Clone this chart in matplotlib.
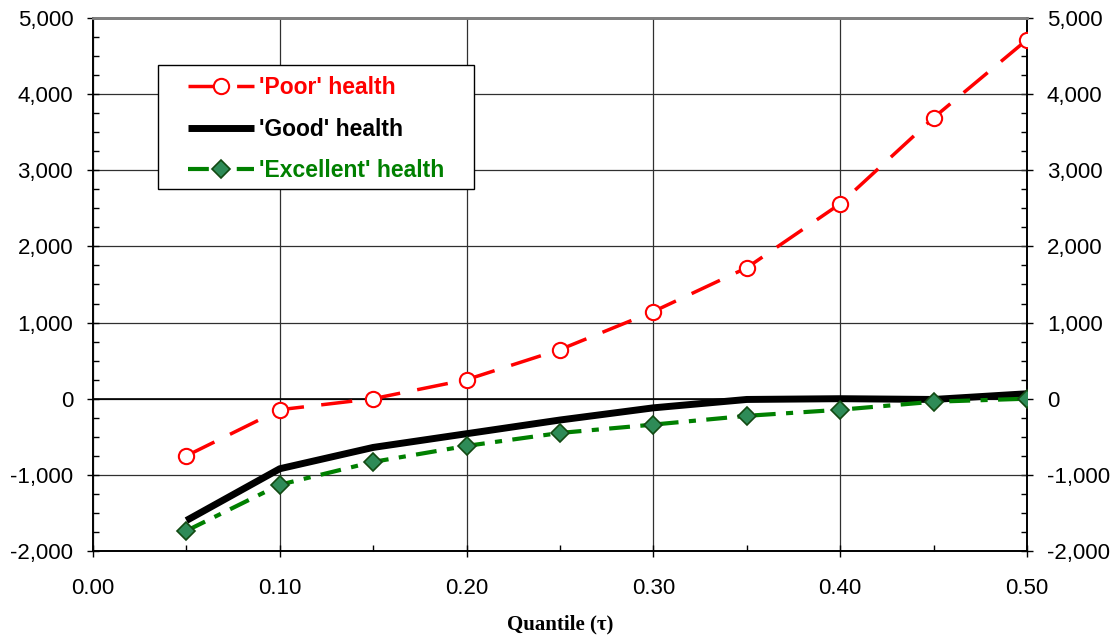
import matplotlib.pyplot as plt
import matplotlib.ticker as mticker
from matplotlib.patches import Rectangle

plt.rcParams['font.family'] = ['Liberation Sans', 'DejaVu Sans']
plt.rcParams['axes.unicode_minus'] = False

# Data
quantile = [0.05, 0.10, 0.15, 0.20, 0.25, 0.30, 0.35, 0.40, 0.45, 0.50]
poor = [-750, -145, 0, 250, 645, 1145, 1720, 2560, 3690, 4715]
good = [-1600, -920, -640, -460, -280, -120, -10, 0, -10, 65]
excellent = [-1735, -1130, -830, -620, -450, -340, -225, -145, -40, 0]

series_labels = ["'Poor' health", "'Good' health", "'Excellent' health"]
label_colors = ['red', 'black', 'green']

fig = plt.figure(figsize=(11.15, 6.38), dpi=100)
ax = fig.add_axes([0.0834, 0.1364, 0.8377, 0.8354])

ax.plot(quantile, poor, color='red', lw=2.5, dashes=(9, 5),
        marker='o', ms=11, mfc='white', mec='red', mew=1.5,
        label=series_labels[0], zorder=4)
ax.plot(quantile, good, color='black', lw=5, solid_capstyle='butt',
        label=series_labels[1], zorder=3)
ax.plot(quantile, excellent, color='green', lw=3, dashes=(5, 2.5, 1.7, 2.5),
        marker='D', ms=9, mfc='#2e8b57', mec='#124a12', mew=1.2,
        label=series_labels[2], zorder=5)

ax.set_xlim(0, 0.5)
ax.set_ylim(-2000, 5000)
ax.xaxis.set_major_locator(mticker.MultipleLocator(0.1))
ax.xaxis.set_minor_locator(mticker.MultipleLocator(0.05))
ax.yaxis.set_major_locator(mticker.MultipleLocator(1000))
ax.yaxis.set_minor_locator(mticker.MultipleLocator(250))
ax.xaxis.set_major_formatter(mticker.FormatStrFormatter('%.2f'))
yfmt = mticker.FuncFormatter(lambda v, p: f'{v:,.0f}')
ax.yaxis.set_major_formatter(yfmt)

ax.grid(True, which='major', color='#303030', lw=0.9, zorder=1)
ax.axhline(0, color='black', lw=1.2, zorder=2)

ax.tick_params(which='major', direction='inout', length=8.5, labelsize=16, width=1)
ax.tick_params(which='minor', direction='in', length=4.3, width=1)
ax.tick_params(axis='y', which='major', pad=10)
ax.tick_params(axis='x', which='major', pad=15.5)

ax2 = ax.twinx()
ax2.set_ylim(ax.get_ylim())
ax2.yaxis.set_major_locator(mticker.MultipleLocator(1000))
ax2.yaxis.set_minor_locator(mticker.MultipleLocator(250))
ax2.yaxis.set_major_formatter(yfmt)
ax2.tick_params(which='major', direction='inout', length=8.5, labelsize=16,
                width=1, pad=10)
ax2.tick_params(which='minor', direction='in', length=4.3, width=1)

for a in (ax, ax2):
    a.spines['top'].set_color('#808080')
    a.spines['top'].set_linewidth(2)
    for s in ('left', 'right', 'bottom'):
        a.spines[s].set_color('black')
        a.spines[s].set_linewidth(1.2)

ax.set_xlabel('Quantile (τ)', family=['Liberation Serif', 'DejaVu Serif'],
              fontweight='bold', fontsize=15, labelpad=11)

# legend box drawn separately so the padding can match the original
box = Rectangle((0.0696, 0.6792), 0.3383, 0.2326, transform=ax.transAxes,
                facecolor='white', edgecolor='black', lw=1.0, zorder=9)
ax.add_patch(box)
leg = ax.legend(loc='center', bbox_to_anchor=(0.2388, 0.7915),
                frameon=False, handlelength=2.9, handletextpad=0.22,
                labelspacing=0.8, borderpad=0, borderaxespad=0,
                prop={'weight': 'bold', 'size': 16.5})
for txt, col in zip(leg.get_texts(), label_colors):
    txt.set_color(col)
leg.set_zorder(10)
ax.set_zorder(ax2.get_zorder() + 1)
ax.patch.set_visible(False)

fig.savefig('out.png', dpi=100)
